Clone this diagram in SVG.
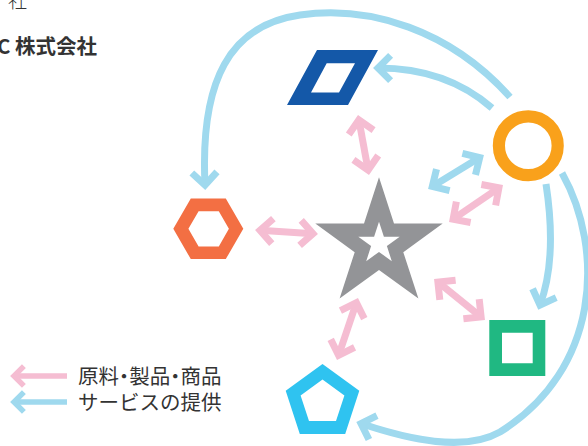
<svg xmlns="http://www.w3.org/2000/svg" width="588" height="446" viewBox="0 0 588 446">
<style>
.p{fill:none;stroke:#f5bdd2;stroke-width:7;stroke-linecap:butt}
.b{fill:none;stroke:#9fd9ee;stroke-width:7;stroke-linecap:butt}
.lg{stroke-width:5.5}
.t{font-family:"Noto Sans CJK JP","Noto Sans",sans-serif;fill:#333}
.h{font-feature-settings:"halt" 1}
</style>
<defs>
<marker id="hp" markerUnits="strokeWidth" orient="auto-start-reverse" overflow="visible" refX="0" refY="0" markerWidth="4" markerHeight="4">
<path d="M-1.8,-1.8L0,0L-1.8,1.8" fill="none" stroke="#f5bdd2" stroke-width="1" stroke-linejoin="miter"/>
</marker>
<marker id="hb" markerUnits="strokeWidth" orient="auto-start-reverse" overflow="visible" refX="0" refY="0" markerWidth="4" markerHeight="4">
<path d="M-1.8,-1.8L0,0L-1.8,1.8" fill="none" stroke="#9fd9ee" stroke-width="1" stroke-linejoin="miter"/>
</marker>
</defs>
<rect width="588" height="446" fill="#fff"/>
<text class="t" x="8" y="8" font-size="19" font-weight="300">社</text>
<text class="t" x="-3" y="54" font-size="20.5" font-weight="bold">C 株式会社</text>
<g id="connectors">
<path class="b" d="M510,97C450,30 370,5 300,15C230,25 200,80 205,185" marker-end="url(#hb)"/>
<path class="b" d="M492,108C460,80 420,68 378,68" marker-end="url(#hb)"/>
<path class="b" d="M546,184C553,230 553,270 540,305" marker-end="url(#hb)"/>
<path class="b" d="M562,173C605,250 600,370 500,432C465,452 410,440 361,423.5" marker-end="url(#hb)"/>
<path class="p" d="M358.9,119.9L368.1,170.1" marker-start="url(#hp)" marker-end="url(#hp)"/>
<path class="p" d="M260,230.3L313,233.7" marker-start="url(#hp)" marker-end="url(#hp)"/>
<path class="p" d="M453.1,219.2L498.9,187.8" marker-start="url(#hp)" marker-end="url(#hp)"/>
<path class="b" d="M432.3,186.4L479.7,157.6" marker-start="url(#hb)" marker-end="url(#hb)"/>
<path class="p" d="M437.9,282.1L481.1,316.9" marker-start="url(#hp)" marker-end="url(#hp)"/>
<path class="p" d="M356.4,302.7L338.6,355.3" marker-start="url(#hp)" marker-end="url(#hp)"/>
</g>
<g id="star">
<path fill="#939497" fill-rule="evenodd" d="M379,177.3L394,223.6L442.7,223.6L403.3,252.2L418.4,298.5L379,269.9L339.6,298.5L354.7,252.2L315.3,223.6L364,223.6Z M379,221.7L383.9,236.8L399.7,236.8L386.9,246.1L391.8,261.2L379,251.9L366.2,261.2L371.1,246.1L358.3,236.8L374.1,236.8Z"/>
</g>
<g id="parallelogram">
<path fill="#1458a8" fill-rule="evenodd" d="M317,50L378,50L348,105L287,105Z M326.7,63.3L355,63.3L339,92.5L311,92.5Z"/>
</g>
<g id="hexagon">
<path fill="#f36f43" fill-rule="evenodd" d="M173.3,228.8L190.8,198.5L225.8,198.5L243.3,228.8L225.8,259.1L190.8,259.1Z M188.4,228.8L198.6,211.2L218.8,211.2L228.9,228.8L218.8,246.4L198.6,246.4Z"/>
</g>
<g id="circle">
<circle cx="528.3" cy="145.7" r="29.4" fill="none" stroke="#f9a11b" stroke-width="12.2"/>
</g>
<g id="square">
<path fill="#20b882" fill-rule="evenodd" d="M489.3,320H545.3V376H489.3Z M502,332.7V363.3H532.7V332.7Z"/>
</g>
<g id="pentagon">
<path fill="#2fc3f0" fill-rule="evenodd" d="M322.5,364L359.3,390.7L345.2,434L299.8,434L285.7,390.7Z M322.5,379.5L344.4,395.4L336,421.1L309,421.1L300.6,395.4Z"/>
</g>
<g id="legend">
<path class="p lg" d="M67,376H14" marker-end="url(#hp)"/>
<path class="b lg" d="M67,402H14" marker-end="url(#hb)"/>
<text class="t h" x="78" y="384" font-size="20.5">原料・製品・商品</text>
<text class="t" x="78" y="410" font-size="20.5">サービスの提供</text>
</g>
</svg>
